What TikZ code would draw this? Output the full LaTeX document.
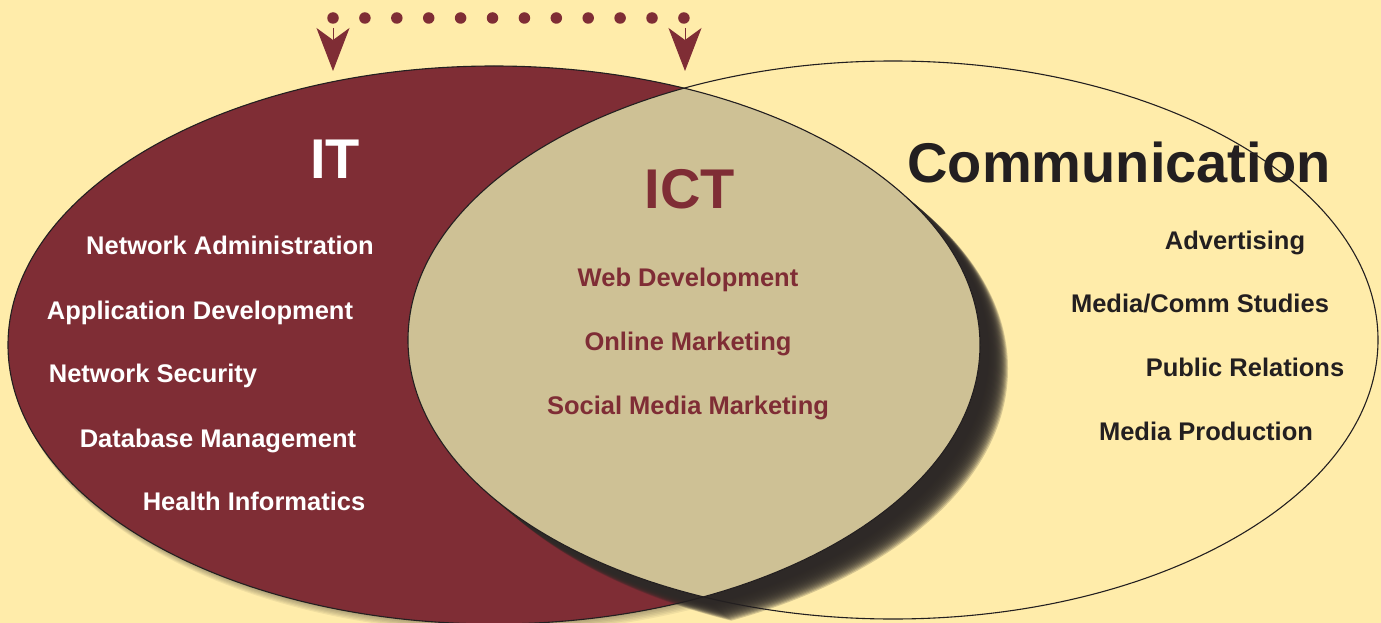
\documentclass[tikz,border=0pt]{standalone}
\usepackage{fontspec}
\setmainfont{Liberation Sans}
\usetikzlibrary{arrows.meta}

\definecolor{bgyellow}{HTML}{FFECAA}
\definecolor{itred}{HTML}{7F2D35}
\definecolor{ictsand}{HTML}{CEC195}
\definecolor{inkdark}{HTML}{231F20}
\definecolor{shadowdark}{HTML}{2E2927}

\begin{document}
\begin{tikzpicture}[
  x=1pt, y=-1pt,
  itshape/.style={insert path={(494,345) ellipse [x radius=486, y radius=279]}},
  commshape/.style={insert path={(893,340) ellipse [x radius=485, y radius=279]}},
  outline/.style={draw=inkdark, line width=1.1pt},
  title/.style={anchor=base, font=\bfseries\fontsize{56}{60}\selectfont},
  item/.style={anchor=base, font=\bfseries\fontsize{25.5}{30}\selectfont},
  ititem/.style={item, text=white},
  ictitem/.style={item, text=itred},
  commitem/.style={item, text=inkdark}
]
\useasboundingbox (0,0) rectangle (1381,623);
\clip (0,0) rectangle (1381,623);
\fill[bgyellow] (0,0) rectangle (1381,623);

\foreach \k in {1,...,6}
  \fill[shadowdark, fill opacity=0.07, shift={(0.7*\k,1.4*\k)}, itshape];
\fill[itred, itshape];

\foreach \k in {1,...,28}{
  \begin{scope}[shift={(\k,0.85*\k)}]
    \clip[itshape];
    \fill[shadowdark, fill opacity=0.2, commshape];
  \end{scope}
}
\begin{scope}
  \clip[itshape];
  \fill[ictsand, commshape];
\end{scope}
\draw[outline, itshape];
\draw[outline, commshape];

\node[title, text=white]   (ittitle)   at (335,178)  {IT};
\node[title, text=itred]   (icttitle)  at (690,208)  {ICT};
\node[title, text=inkdark] (commtitle) at (1119,182) {Communication};

\node[ititem] (netadmin) at (230,254) {Network Administration};
\node[ititem] (appdev)   at (200,319) {Application Development};
\node[ititem] (netsec)   at (153,382) {Network Security};
\node[ititem] (dbman)    at (218,447) {Database Management};
\node[ititem] (health)   at (254,510) {Health Informatics};

\node[ictitem] (webdev) at (688,286) {Web Development};
\node[ictitem] (online) at (688,350) {Online Marketing};
\node[ictitem] (social) at (688,414) {Social Media Marketing};

\node[commitem] (advert)  at (1235,249) {Advertising};
\node[commitem] (media)   at (1200,312) {Media/Comm Studies};
\node[commitem] (public)  at (1245,376) {Public Relations};
\node[commitem] (mediapr) at (1206,440) {Media Production};

\coordinate (itin)  at (333,71);
\coordinate (ictin) at (685,71);
\draw[itred, line width=11.5pt, line cap=round, dash pattern=on 0pt off 31.9pt]
  ([yshift=53pt]itin) -- ([yshift=53pt]ictin);
\foreach \t in {itin,ictin}
  \draw[itred, line width=1pt, -{Stealth[length=43pt, width=33pt, inset=12pt]}]
    ([yshift=43pt]\t) -- (\t);
\end{tikzpicture}
\end{document}
